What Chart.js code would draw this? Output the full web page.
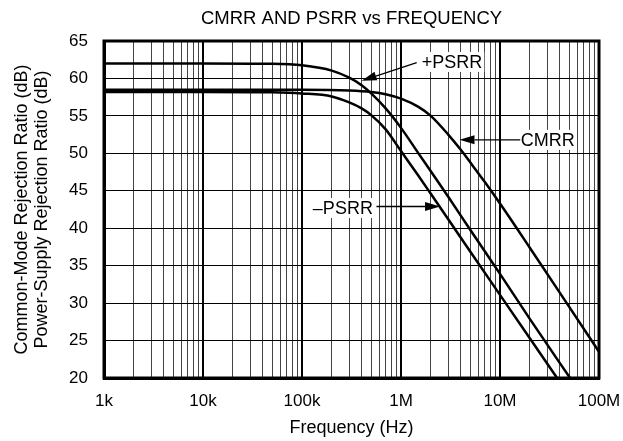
<!DOCTYPE html>
<html>
<head>
<meta charset="utf-8">
<script src="https://cdn.jsdelivr.net/npm/chart.js@4.4.1/dist/chart.umd.min.js"></script>
<style>
  body { margin: 0; background: #fff; }
</style>
</head>
<body>
<canvas id="myChart" width="623" height="441"></canvas>
<script>
// values (frequency in Hz, ratio in dB)
var cmrrHz = [1e3, 1e4, 1e5, 3e5, 5e5, 7e5, 1e6, 1.5e6, 2e6, 3e6, 4e6, 5e6, 7e6, 1e7, 2e7, 5e7, 1e8];
var cmrrDb = [58.5, 58.5, 58.5, 58.4, 58.2, 57.9, 57.3, 56.2, 55.0, 52.5, 50.5, 48.8, 46.2, 43.3, 37.4, 29.5, 23.5];

var psrrPlusHz = [1e3, 1e4, 5e4, 1e5, 2e5, 3e5, 4e5, 5e5, 7e5, 1e6, 1.5e6, 2e6, 3e6, 5e6, 1e7, 2e7, 5.1e7];
var psrrPlusDb = [62.0, 62.0, 61.95, 61.75, 61.05, 60.1, 59.1, 58.0, 56.0, 53.4, 50.0, 47.6, 44.2, 39.8, 33.9, 27.9, 20.0];

var psrrMinusHz = [1e3, 1e4, 5e4, 1e5, 2e5, 3e5, 4e5, 5e5, 7e5, 1e6, 1.5e6, 2e6, 3e6, 5e6, 1e7, 2e7, 3.77e7];
var psrrMinusDb = [58.2, 58.2, 58.15, 58.0, 57.6, 56.8, 56.0, 55.1, 53.2, 50.3, 47.0, 44.6, 41.2, 36.9, 31.1, 25.3, 20.0];

var freqTickLabels = ['1k', '10k', '100k', '1M', '10M', '100M'];
var dbTicks = [20, 25, 30, 35, 40, 45, 50, 55, 60, 65];

var chartTitle = 'CMRR AND PSRR vs FREQUENCY';
var FONT = "'Liberation Sans', Arial, sans-serif";

function pairs(xs, ys) {
    return xs.map(function (x, i) { return { x: x, y: ys[i] }; });
}

function isDecade(v) {
    var l = Math.log10(v);
    return Math.abs(l - Math.round(l)) < 1e-6;
}

// callouts: text anchor, line start and arrow tip, all in data units
var callouts = [
    { text: '+PSRR', tx: 1.62e6, ty: 62.2, align: 'left',  fx: 1.44e6, fy: 62.1, hx: 4.0e5, hy: 59.7 },
    { text: 'CMRR',  tx: 1.62e7, ty: 51.8, align: 'left',  fx: 1.60e7, fy: 51.8, hx: 3.9e6, hy: 51.8 },
    { text: '\u2013PSRR', tx: 5.2e5, ty: 42.7, align: 'right', fx: 5.65e5, fy: 42.9, hx: 2.48e6, hy: 42.9 }
];

var calloutPlugin = {
    id: 'callouts',
    afterDatasetsDraw: function (chart) {
        var ctx = chart.ctx, xs = chart.scales.x, ys = chart.scales.y;
        ctx.save();
        ctx.font = '18px ' + FONT;
        ctx.textBaseline = 'middle';
        callouts.forEach(function (c) {
            var x = xs.getPixelForValue(c.tx), y = ys.getPixelForValue(c.ty);
            var w = ctx.measureText(c.text).width;
            var left = c.align === 'left' ? x : x - w;
            ctx.fillStyle = '#fff';
            ctx.fillRect(left - 2, y - 10, w + 4, 20);
            ctx.fillStyle = '#000';
            ctx.textAlign = c.align;
            ctx.fillText(c.text, x, y + 1);

            var x0 = xs.getPixelForValue(c.fx), y0 = ys.getPixelForValue(c.fy);
            var x1 = xs.getPixelForValue(c.hx), y1 = ys.getPixelForValue(c.hy);
            var ang = Math.atan2(y1 - y0, x1 - x0);
            var len = 15, half = 4.5;
            var bx = x1 - len * Math.cos(ang), by = y1 - len * Math.sin(ang);
            ctx.strokeStyle = '#000';
            ctx.lineWidth = 1.3;
            ctx.beginPath();
            ctx.moveTo(x0, y0);
            ctx.lineTo(bx, by);
            ctx.stroke();
            ctx.beginPath();
            ctx.moveTo(x1, y1);
            ctx.lineTo(bx + half * Math.sin(ang), by - half * Math.cos(ang));
            ctx.lineTo(bx - half * Math.sin(ang), by + half * Math.cos(ang));
            ctx.closePath();
            ctx.fill();
        });
        ctx.restore();
    },
    afterDraw: function (chart) {
        var a = chart.chartArea, ctx = chart.ctx;
        ctx.save();
        ctx.strokeStyle = '#000';
        ctx.lineWidth = 3;
        ctx.strokeRect(a.left, a.top, a.right - a.left, a.bottom - a.top);
        // title centred over the plot area
        ctx.fillStyle = '#000';
        ctx.font = '18.5px ' + FONT;
        ctx.textAlign = 'center';
        ctx.textBaseline = 'middle';
        ctx.fillText(chartTitle, (a.left + a.right) / 2, 19);
        ctx.restore();
    }
};

function series(label, xs, ys) {
    return {
        label: label,
        data: pairs(xs, ys),
        borderColor: '#000',
        backgroundColor: 'transparent',
        borderWidth: 2.5,
        pointRadius: 0,
        cubicInterpolationMode: 'monotone'
    };
}

var ctx = document.getElementById('myChart').getContext('2d');
var myChart = new Chart(ctx, {
    type: 'line',
    data: {
        datasets: [
            series('CMRR', cmrrHz, cmrrDb),
            series('+PSRR', psrrPlusHz, psrrPlusDb),
            series('-PSRR', psrrMinusHz, psrrMinusDb)
        ]
    },
    plugins: [calloutPlugin],
    options: {
        responsive: false,
        animation: false,
        layout: { padding: { left: 0, right: 24, top: 41, bottom: 0 } },
        plugins: {
            legend: { display: false },
            tooltip: { enabled: false },
            title: { display: false }
        },
        scales: {
            x: {
                type: 'logarithmic',
                min: 1e3,
                max: 1e8,
                afterBuildTicks: function (scale) {
                    var t = [];
                    for (var d = 3; d <= 8; d++) {
                        for (var m = 1; m <= 9; m++) {
                            var v = m * Math.pow(10, d);
                            if (v <= 1e8) t.push({ value: v });
                        }
                    }
                    scale.ticks = t;
                },
                afterFit: function (scale) {
                    scale.height = 63;
                    scale.paddingLeft = 0;
                    scale.paddingRight = 0;
                },
                ticks: {
                    autoSkip: false,
                    maxRotation: 0,
                    padding: 13,
                    color: '#000',
                    font: { family: FONT, size: 17 },
                    callback: function (v) {
                        if (!isDecade(v)) return '';
                        return freqTickLabels[Math.round(Math.log10(v)) - 3];
                    }
                },
                grid: {
                    drawTicks: false,
                    color: function (c) { return c.tick && isDecade(c.tick.value) ? '#000' : '#444'; },
                    lineWidth: function (c) { return c.tick && isDecade(c.tick.value) ? 2 : 1; }
                },
                border: { color: '#000', width: 3 },
                title: {
                    display: true,
                    text: 'Frequency (Hz)',
                    color: '#000',
                    font: { family: FONT, size: 18, lineHeight: 1.2 },
                    padding: { top: 0, bottom: 2 }
                }
            },
            y: {
                min: 20,
                max: 65,
                afterBuildTicks: function (scale) {
                    scale.ticks = dbTicks.map(function (v) { return { value: v }; });
                },
                afterFit: function (scale) {
                    scale.width = 104;
                    scale.paddingTop = 0;
                    scale.paddingBottom = 0;
                },
                ticks: {
                    padding: 16,
                    color: '#000',
                    font: { family: FONT, size: 17 }
                },
                grid: { drawTicks: false, color: '#000', lineWidth: 1 },
                border: { color: '#000', width: 3 },
                title: {
                    display: true,
                    text: ['Common-Mode Rejection Ratio (dB)', 'Power-Supply Rejection Ratio (dB)'],
                    color: '#000',
                    font: { family: FONT, size: 18, lineHeight: 1.11 },
                    padding: { top: 12, bottom: 0 }
                }
            }
        }
    }
});
</script>
</body>
</html>
